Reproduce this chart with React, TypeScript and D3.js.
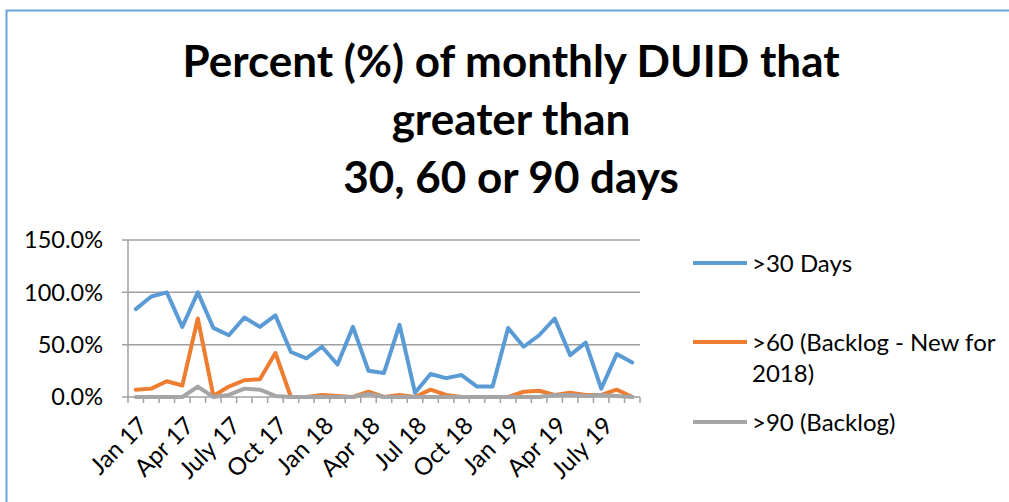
import React, { useRef, useEffect } from 'react';
import * as d3 from 'd3';

// Month categories, Jan 17 .. Sep 19
const months = [
  'Jan 17', 'Feb 17', 'Mar 17', 'Apr 17', 'May 17', 'Jun 17', 'July 17', 'Aug 17', 'Sep 17', 'Oct 17', 'Nov 17', 'Dec 17',
  'Jan 18', 'Feb 18', 'Mar 18', 'Apr 18', 'May 18', 'Jun 18', 'Jul 18', 'Aug 18', 'Sep 18', 'Oct 18', 'Nov 18', 'Dec 18',
  'Jan 19', 'Feb 19', 'Mar 19', 'Apr 19', 'May 19', 'Jun 19', 'July 19', 'Aug 19', 'Sep 19',
];

// Percent values (0..100)
const over30 = [84, 96, 100, 67, 100, 66, 59, 76, 67, 78, 43, 37, 48, 31, 67, 25, 23, 69, 4, 22, 18, 21, 10, 10, 66, 48, 59, 75, 40, 52, 8, 41, 33];
const over60 = [7, 8, 15, 11, 75, 1, 10, 16, 17, 42, 0, 0, 2, 1, 0, 5, 0, 2, 0, 7, 2, 0, 0, 0, 0, 5, 6, 2, 4, 2, 2, 7, 0];
const over90 = [0, 0, 0, 0, 10, 0, 2, 8, 7, 1, 0, 0, 0, 0, 0, 3, 0, 0, 0, 0, 0, 0, 0, 0, 0, 0, 0, 2, 2, 1, 2, 1, 0];

const seriesNames = ['>30 Days', '>60 (Backlog - New for\n2018)', '>90 (Backlog)'];
const seriesColors = ['#5B9BD5', '#ED7D31', '#A5A5A5'];
const yTicks = [0, 50, 100, 150];
const titleLines = ['Percent (%) of monthly DUID that', 'greater than', '30, 60 or 90 days'];

const font = 'Lato, "Open Sans", sans-serif';

const Chart = () => {
  const svgRef = useRef<SVGSVGElement>(null);

  useEffect(() => {
    if (!svgRef.current) return;
    const svg = d3.select(svgRef.current);
    svg.selectAll('*').remove();

    const W = 1009, H = 502;
    const plot = { left: 128, right: 640, top: 240, bottom: 397 };

    // outer border
    svg.append('rect')
      .attr('x', 6.5).attr('y', 10.5)
      .attr('width', W + 20).attr('height', H + 20)
      .attr('fill', '#fff')
      .attr('stroke', '#6AA5DA')
      .attr('stroke-width', 2);

    // title
    const title = svg.append('text')
      .attr('text-anchor', 'middle')
      .style('font-family', font)
      .style('font-weight', 'bold')
      .style('font-size', '44px')
      .attr('fill', '#000');
    titleLines.forEach((t, i) => {
      title.append('tspan').attr('x', 511).attr('y', 77 + i * 58).text(t);
    });

    const x = d3.scaleBand<string>().domain(months).range([plot.left, plot.right]);
    const y = d3.scaleLinear().domain([0, 150]).range([plot.bottom, plot.top]);
    const cx = (m: string) => (x(m) || 0) + x.bandwidth() / 2;

    const axisColor = '#A0A0A0';

    // gridlines
    svg.append('g')
      .selectAll('line')
      .data(yTicks.filter(d => d > 0))
      .enter().append('line')
      .attr('x1', plot.left - 6).attr('x2', plot.right)
      .attr('y1', d => y(d)).attr('y2', d => y(d))
      .attr('stroke', axisColor).attr('stroke-width', 1.5);

    // y axis
    svg.append('line')
      .attr('x1', plot.left).attr('x2', plot.left)
      .attr('y1', plot.top).attr('y2', plot.bottom)
      .attr('stroke', axisColor).attr('stroke-width', 1.5);
    svg.append('line')
      .attr('x1', plot.left - 6).attr('x2', plot.left)
      .attr('y1', plot.bottom).attr('y2', plot.bottom)
      .attr('stroke', axisColor).attr('stroke-width', 1.5);

    svg.append('g')
      .selectAll('text')
      .data(yTicks)
      .enter().append('text')
      .attr('x', 103)
      .attr('y', d => y(d))
      .attr('dy', '0.36em')
      .attr('text-anchor', 'end')
      .style('font-family', font)
      .style('font-size', '23.5px')
      .attr('fill', '#000')
      .text(d => d.toFixed(1) + '%');

    // x axis with ticks at band edges
    svg.append('line')
      .attr('x1', plot.left).attr('x2', plot.right)
      .attr('y1', plot.bottom).attr('y2', plot.bottom)
      .attr('stroke', axisColor).attr('stroke-width', 1.5);
    const edges = months.map(m => x(m) || 0).concat([plot.right]);
    svg.append('g')
      .selectAll('line')
      .data(edges)
      .enter().append('line')
      .attr('x1', d => d).attr('x2', d => d)
      .attr('y1', plot.bottom).attr('y2', plot.bottom + 6)
      .attr('stroke', axisColor).attr('stroke-width', 1.5);

    svg.append('g')
      .selectAll('text')
      .data(months.filter((_, i) => i % 3 === 0))
      .enter().append('text')
      .attr('transform', d => `translate(${cx(d) + 7},${plot.bottom + 24}) rotate(-45)`)
      .attr('text-anchor', 'end')
      .attr('dy', '0.36em')
      .style('font-family', font)
      .style('font-size', '24px')
      .attr('fill', '#000')
      .text(d => d);

    // series lines
    const line = d3.line<number>()
      .x((_, i) => cx(months[i]))
      .y(d => y(d));
    [over30, over60, over90].forEach((s, i) => {
      svg.append('path')
        .datum(s)
        .attr('d', line)
        .attr('fill', 'none')
        .attr('stroke', seriesColors[i])
        .attr('stroke-width', 4)
        .attr('stroke-linejoin', 'round')
        .attr('stroke-linecap', 'round');
    });

    // legend
    const legendY = [263, 342, 422];
    seriesNames.forEach((name, i) => {
      svg.append('line')
        .attr('x1', 693).attr('x2', 747)
        .attr('y1', legendY[i]).attr('y2', legendY[i])
        .attr('stroke', seriesColors[i])
        .attr('stroke-width', 4);
      const t = svg.append('text')
        .style('font-family', font)
        .style('font-size', '24px')
        .attr('fill', '#000');
      name.split('\n').forEach((part, j) => {
        t.append('tspan')
          .attr('x', 752)
          .attr('y', legendY[i] + j * 31)
          .attr('dy', '0.36em')
          .text(part);
      });
    });
  }, []);

  return (
    <svg
      ref={svgRef}
      width={1009}
      height={502}
      style={{ position: 'absolute', left: 0, top: 0, display: 'block', background: '#fff' }}
    />
  );
};

const App = () => <Chart />;

export default App;
